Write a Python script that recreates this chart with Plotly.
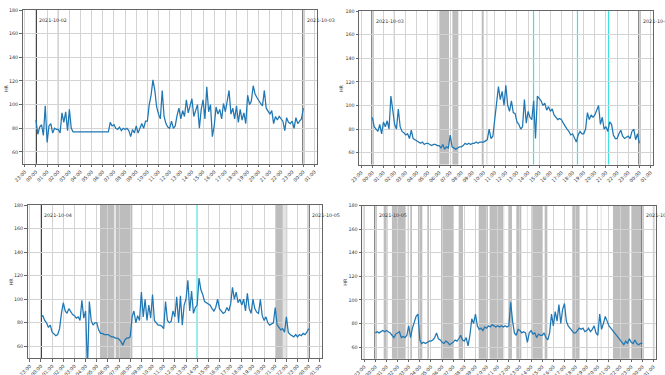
import pandas as pd
import plotly.graph_objects as go
from plotly.subplots import make_subplots

# ---------------- data ----------------
DAYS = ["2021-10-02", "2021-10-03", "2021-10-04", "2021-10-05"]
NEXT_DAYS = ["2021-10-03", "2021-10-04", "2021-10-05", "2021-10-06"]
Y_TICKS = [60, 80, 100, 120, 140, 160, 180]

# heart rate, one reading every 10 minutes from 00:00 to 24:00
HR_1002 = [
    87, 75, 81, 83, 74, 99,  68, 82, 84, 76, 80, 79,  79, 76, 93, 85, 94, 78,
    96, 80, 77, 77, 77, 77,  77, 77, 77, 77, 77, 77,  77, 77, 77, 77, 77, 77,
    77, 77, 77, 77, 85, 82,  83, 80, 79, 81, 78, 80,  79, 80, 78, 73, 79, 76,
    82, 76, 80, 84, 80, 86,  86, 100, 108, 121, 112, 98,  92, 88, 112, 90, 84, 81,
    80, 86, 80, 82, 91, 97,  88, 95, 90, 104, 93, 99,  105, 90, 96, 100, 80, 96,
    104, 88, 115, 94, 100, 73,  82, 98, 92, 96, 88, 101,  94, 104, 112, 92, 97, 88,
    99, 85, 96, 87, 93, 84,  108, 100, 103, 116, 109, 106,  104, 101, 99, 112, 97, 94,
    92, 95, 84, 90, 87, 90,  88, 86, 78, 89, 85, 84,  86, 80, 89, 84, 86, 88,
    97,
]
HR_1003 = [
    90, 82, 80, 78, 84, 76,  86, 82, 87, 80, 108, 95,  84, 80, 97, 82, 78, 77,
    75, 76, 72, 79, 72, 71,  70, 69, 68, 69, 67, 68,  68, 67, 66, 67, 67, 66,
    66, 64, 67, 63, 65, 64,  75, 65, 64, 63, 64, 65,  65, 66, 68, 67, 68, 67,
    68, 68, 69, 68, 69, 69,  69, 70, 71, 80, 72, 74,  90, 100, 116, 105, 112, 100,
    117, 100, 95, 104, 94, 93,  86, 84, 80, 82, 105, 85,  95, 90, 88, 104, 72, 108,
    106, 104, 100, 102, 96, 99,  95, 97, 92, 90, 88, 89,  88, 85, 82, 80, 78, 75,
    76, 72, 69, 75, 78, 76,  76, 80, 94, 88, 92, 90,  92, 96, 100, 84, 90, 80,
    82, 78, 86, 84, 75, 72,  72, 76, 79, 74, 72, 73,  74, 72, 78, 80, 71, 76,
    68,
]
HR_1004 = [
    85, 86, 82, 80, 76, 78,  72, 70, 69, 70, 75, 88,  97, 90, 88, 92, 89, 87,
    86, 84, 85, 82, 99, 84,  90, 40, 98, 82, 78, 80,  80, 74, 71, 71, 70, 70,
    70, 69, 68, 68, 67, 67,  66, 64, 61, 65, 67, 67,  68, 85, 90, 80, 86, 82,
    106, 85, 100, 82, 95, 84,  104, 82, 80, 78, 78, 77,  75, 98, 82, 80, 81, 90,
    85, 102, 80, 103, 78, 95,  100, 116, 90, 107, 88, 93,  95, 118, 108, 104, 98, 97,
    96, 95, 92, 90, 93, 100,  92, 90, 88, 89, 93, 90,  96, 110, 100, 106, 97, 100,
    95, 100, 90, 105, 92, 88,  100, 92, 89, 88, 100, 86,  82, 85, 80, 78, 79, 80,
    93, 78, 76, 74, 75, 72,  85, 72, 70, 69, 68, 70,  68, 70, 69, 71, 70, 72,
    75,
]
HR_1005 = [
    72, 73, 72, 73, 74, 73,  74, 73, 72, 70, 68, 71,  72, 73, 68, 69, 68, 70,
    78, 68, 76, 82, 86, 88,  66, 63, 64, 63, 64, 65,  65, 66, 68, 72, 67, 66,
    64, 63, 65, 64, 62, 63,  64, 66, 65, 67, 70, 66,  65, 68, 61, 70, 84, 80,
    88, 78, 75, 76, 74, 77,  76, 78, 77, 79, 78, 77,  78, 77, 78, 77, 78, 77,
    78, 98, 82, 72, 70, 75,  74, 72, 73, 72, 64, 72,  74, 71, 72, 68, 71, 70,
    70, 72, 68, 66, 72, 88,  78, 90, 82, 96, 80, 92,  97, 82, 78, 76, 74, 72,
    72, 74, 76, 75, 76, 73,  74, 76, 73, 75, 78, 72,  70, 88, 75, 80, 86, 82,
    78, 76, 74, 72, 70, 68,  66, 64, 62, 65, 63, 67,  64, 63, 66, 63, 62, 63,
    63,
]
HR_SERIES = [HR_1002, HR_1003, HR_1004, HR_1005]

# event markers (hours after midnight)
EVENTS_1002 = [2.0]
EVENTS_1003 = [1.98, 14.49, 18.44, 21.23]
EVENTS_1004 = [13.99]
EVENTS_1005 = []
EVENTS = [EVENTS_1002, EVENTS_1003, EVENTS_1004, EVENTS_1005]

# shaded periods (start hour, end hour)
SPANS_1002 = []
SPANS_1003 = [(5.99, 6.89), (7.19, 7.73), (9.83, 10.02)]
SPANS_1004 = [(5.29, 6.58), (6.69, 8.19), (21.01, 21.67)]
SPANS_1005 = [(0.75, 1.10), (1.49, 2.72), (3.14, 3.29), (3.83, 4.22), (4.67, 4.82),
              (5.90, 7.04), (7.49, 7.88), (9.29, 10.12), (10.27, 11.47),
              (11.92, 12.28), (12.67, 13.12), (14.11, 15.07), (15.22, 15.46),
              (17.70, 18.36), (21.36, 22.85), (23.00, 23.90)]
SPANS = [SPANS_1002, SPANS_1003, SPANS_1004, SPANS_1005]

LIGHT_1002 = []
LIGHT_1003 = [(5.79, 5.88), (10.22, 10.37)]
LIGHT_1004 = [(21.67, 22.1)]
LIGHT_1005 = [(-1.14, -0.96), (2.87, 3.02), (11.45, 11.6), (13.62, 13.72),
              (19.02, 19.12), (20.25, 20.35), (24.93, 25.14)]
LIGHT = [LIGHT_1002, LIGHT_1003, LIGHT_1004, LIGHT_1005]

# ---------------- figure ----------------
W, H = 665, 375
FONT = "DejaVu Sans"
TXT = "#333333"
FS = 4.8

# panel pixel boxes: left, right, top, bottom
BOXES = [(22.6, 316.7, 10.0, 163.8), (359.0, 652.7, 11.0, 164.5),
         (27.6, 322.1, 205.0, 358.1), (362.0, 655.7, 205.7, 358.8)]
HR_LABEL_POS = [(6, 88), (341, 88), (11.7, 281.7), (346, 281.7)]

fig = make_subplots(rows=2, cols=2)


def ts(day, h):
    return (pd.Timestamp(day) + pd.Timedelta(hours=h)).strftime("%Y-%m-%d %H:%M:%S")


shapes = []
annotations = []
for i, day in enumerate(DAYS):
    r, c = i // 2 + 1, i % 2 + 1
    n = "" if i == 0 else str(i + 1)
    xref, yref = "x" + n, "y" + n + " domain"
    t = pd.date_range(pd.Timestamp(day), periods=len(HR_SERIES[i]), freq="10min")
    fig.add_trace(go.Scatter(x=t, y=HR_SERIES[i], mode="lines",
                             line=dict(color="#1f77b4", width=1.25),
                             showlegend=False, hoverinfo="skip"), row=r, col=c)

    for (a, b) in SPANS[i]:
        shapes.append(dict(type="rect", xref=xref, yref=yref, x0=ts(day, a), x1=ts(day, b),
                           y0=0, y1=1, fillcolor="rgba(128,128,128,0.52)",
                           line=dict(width=0), layer="below"))
    for (a, b) in LIGHT[i]:
        shapes.append(dict(type="rect", xref=xref, yref=yref, x0=ts(day, a), x1=ts(day, b),
                           y0=0, y1=1, fillcolor="rgba(128,128,128,0.22)",
                           line=dict(width=0), layer="below"))
    for e in EVENTS[i]:
        shapes.append(dict(type="line", xref=xref, yref=yref, x0=ts(day, e), x1=ts(day, e),
                           y0=0, y1=1, line=dict(color="#40e0e0", width=1.2), layer="below"))
    for h in (0, 24):
        shapes.append(dict(type="line", xref=xref, yref=yref, x0=ts(day, h), x1=ts(day, h),
                           y0=0, y1=1, line=dict(color="#2a2a2a", width=1.8), layer="below"))

    annotations.append(dict(x=ts(day, 0), y=171.5, xref=xref, yref="y" + n, text=DAYS[i],
                            showarrow=False, xanchor="left", yanchor="middle", xshift=1.5,
                            font=dict(size=FS, color=TXT, family=FONT)))
    annotations.append(dict(x=ts(day, 24), y=171.5, xref=xref, yref="y" + n, text=NEXT_DAYS[i],
                            showarrow=False, xanchor="left", yanchor="middle", xshift=1.5,
                            font=dict(size=FS, color=TXT, family=FONT)))
    hx, hy = HR_LABEL_POS[i]
    annotations.append(dict(x=hx / W, y=1 - hy / H, xref="paper", yref="paper", text="HR",
                            showarrow=False, textangle=-90, xanchor="center", yanchor="middle",
                            font=dict(size=FS, color=TXT, family=FONT)))

    L, R, T, B = BOXES[i]
    axstyle = dict(showgrid=True, gridcolor="#d3d3d3", gridwidth=0.8, showline=True,
                   linecolor="#666666", linewidth=1, mirror=True, ticks="outside",
                   ticklen=2.5, tickcolor="#666666", tickwidth=0.8, automargin=False,
                   tickfont=dict(size=FS, color=TXT, family=FONT), zeroline=False)
    fig.update_xaxes(domain=[L / W, R / W], type="date",
                     range=[ts(day, -1.2), ts(day, 25.2)],
                     tick0=ts(day, 0), dtick=3600000, tickformat="%H:%M", tickangle=-45,
                     **axstyle, row=r, col=c)
    fig.update_yaxes(domain=[1 - B / H, 1 - T / H], range=[50, 180], tickvals=Y_TICKS,
                     **axstyle, row=r, col=c)

fig.update_layout(width=W, height=H, margin=dict(l=0, r=0, t=0, b=0, autoexpand=False),
                  plot_bgcolor="white", paper_bgcolor="white", showlegend=False,
                  shapes=shapes, annotations=annotations,
                  font=dict(family=FONT, size=FS, color=TXT))
fig.write_html("out.html", config={"displayModeBar": False},
               post_script="document.body.style.margin='0px';document.body.style.overflow='hidden';")
